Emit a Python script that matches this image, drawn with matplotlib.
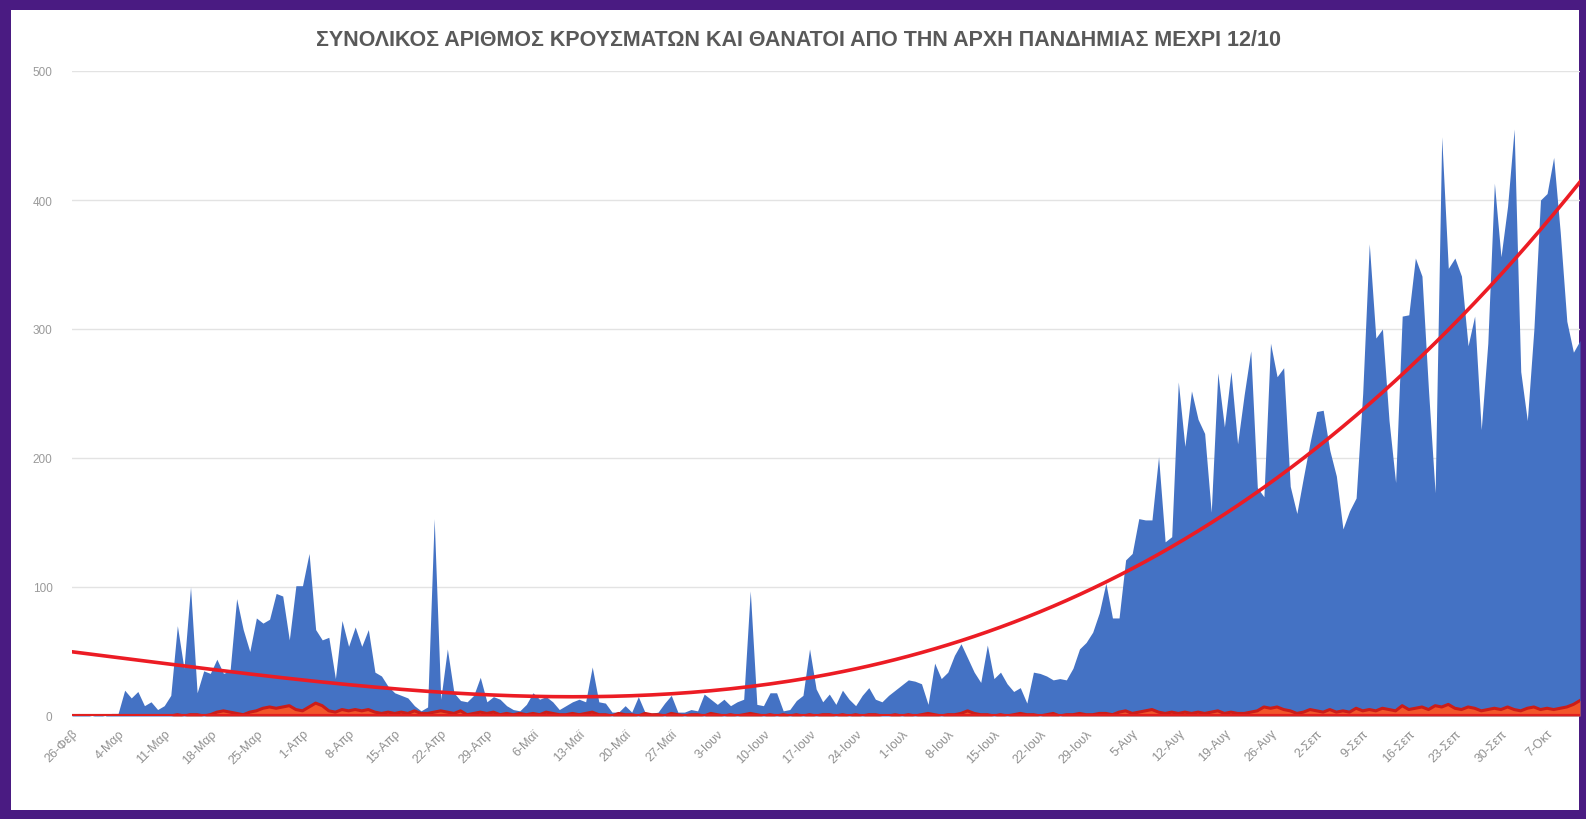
import numpy as np
import matplotlib.pyplot as plt
from matplotlib.patches import Rectangle

plt.rcParams['font.family'] = ['Liberation Sans', 'DejaVu Sans']

# ημερήσια κρούσματα 26/2 - 12/10 (230 ημέρες)
cases = [
    1, 2, 1, 0, 1, 0, 2,
    2, 20, 14, 19, 8, 11, 5,
    8, 16, 70, 37, 100, 18, 35,
    33, 44, 33, 35, 91, 67, 50,
    76, 72, 75, 95, 93, 59, 101,
    101, 126, 67, 59, 61, 29, 74,
    54, 69, 54, 67, 34, 31, 23,
    18, 16, 14, 8, 4, 7, 153,
    13, 52, 18, 12, 11, 16, 30,
    11, 15, 13, 8, 5, 4, 9,
    18, 13, 15, 11, 5, 8, 11,
    13, 11, 38, 11, 10, 3, 3,
    8, 3, 15, 3, 2, 3, 10,
    16, 3, 3, 5, 4, 17, 13,
    9, 13, 8, 11, 13, 97, 9,
    8, 18, 18, 4, 5, 12, 16,
    52, 21, 11, 17, 9, 20, 13,
    8, 16, 22, 13, 11, 16, 20,
    24, 28, 27, 25, 9, 41, 29,
    34, 47, 56, 45, 34, 26, 55,
    29, 34, 25, 19, 22, 10, 34,
    33, 31, 28, 29, 28, 37, 52,
    57, 65, 80, 103, 76, 76, 121,
    126, 153, 152, 152, 201, 135, 139,
    259, 209, 252, 230, 219, 158, 266,
    224, 267, 211, 249, 283, 177, 170,
    289, 263, 270, 178, 157, 185, 212,
    236, 237, 206, 186, 145, 159, 169,
    250, 366, 293, 300, 229, 181, 310,
    311, 355, 341, 252, 173, 449, 347,
    355, 341, 287, 310, 222, 289, 413,
    356, 395, 455, 267, 229, 300, 400,
    405, 433, 375, 306, 282, 291,
]

# ημερήσιοι θάνατοι
deaths = [
    0, 0, 0, 0, 0, 0, 0,
    0, 0, 0, 0, 0, 0, 0,
    0, 0, 1, 0, 1, 1, 0,
    1, 3, 4, 3, 2, 1, 3,
    4, 6, 7, 6, 7, 8, 5,
    4, 7, 10, 8, 4, 3, 5,
    4, 5, 4, 5, 3, 2, 3,
    2, 3, 2, 4, 2, 2, 3,
    4, 3, 2, 4, 1, 2, 3,
    2, 3, 1, 2, 1, 2, 1,
    2, 1, 3, 2, 1, 1, 2,
    1, 2, 3, 1, 1, 0, 2,
    1, 1, 0, 2, 1, 1, 0,
    2, 1, 0, 1, 1, 0, 2,
    1, 0, 1, 0, 1, 2, 1,
    0, 1, 0, 1, 0, 1, 0,
    1, 0, 1, 1, 0, 1, 0,
    1, 0, 1, 1, 0, 0, 1,
    0, 1, 0, 1, 2, 1, 0,
    1, 1, 2, 4, 2, 1, 1,
    0, 1, 0, 1, 2, 1, 1,
    0, 1, 2, 0, 1, 1, 2,
    1, 1, 2, 2, 1, 3, 4,
    2, 3, 4, 5, 3, 2, 3,
    2, 3, 2, 3, 2, 3, 4,
    2, 3, 2, 2, 3, 4, 7,
    6, 7, 5, 4, 2, 3, 5,
    4, 3, 5, 3, 4, 3, 6,
    4, 5, 4, 6, 5, 4, 8,
    5, 6, 7, 5, 8, 7, 9,
    6, 5, 7, 6, 4, 5, 6,
    5, 7, 5, 4, 6, 7, 5,
    6, 5, 6, 7, 9, 12,
]

tick_labels = ['26-Φεβ', '4-Μαρ', '11-Μαρ', '18-Μαρ', '25-Μαρ', '1-Απρ', '8-Απρ',
               '15-Απρ', '22-Απρ', '29-Απρ', '6-Μαϊ', '13-Μαϊ', '20-Μαϊ', '27-Μαϊ',
               '3-Ιουν', '10-Ιουν', '17-Ιουν', '24-Ιουν', '1-Ιουλ', '8-Ιουλ',
               '15-Ιουλ', '22-Ιουλ', '29-Ιουλ', '5-Αυγ', '12-Αυγ', '19-Αυγ',
               '26-Αυγ', '2-Σεπ', '9-Σεπ', '16-Σεπ', '23-Σεπ', '30-Σεπ', '7-Οκτ']

title = 'ΣΥΝΟΛΙΚΟΣ ΑΡΙΘΜΟΣ ΚΡΟΥΣΜΑΤΩΝ ΚΑΙ ΘΑΝΑΤΟΙ ΑΠΟ ΤΗΝ ΑΡΧΗ ΠΑΝΔΗΜΙΑΣ ΜΕΧΡΙ 12/10'

W, H = 1586, 820
fig = plt.figure(figsize=(W / 100, H / 100), dpi=100, facecolor='#4a1b82')
# λευκό πλαίσιο γραφήματος πάνω στο μωβ φόντο
fig.patches.append(Rectangle((11 / W, 9 / H), (1579 - 11) / W, (809 - 9) / H,
                             transform=fig.transFigure, facecolor='white',
                             edgecolor='none', zorder=-10))

ax = fig.add_axes([72 / W, 1 - 717 / H, (1580 - 72) / W, (717 - 72) / H])
ax.set_facecolor('none')
ax.set_zorder(2)

x = np.arange(len(cases))
c = np.array(cases, dtype=float)
d = np.array(deaths, dtype=float)

ax.fill_between(x, c, color='#4472c4', lw=0, zorder=2)
ax.fill_between(x, d, color='#f2562a', lw=0, zorder=3)
ax.plot(x, d, color='#cc1d18', lw=2.2, zorder=4)
ax.plot(x, np.zeros_like(d), color='#e0201f', lw=3, zorder=4)

# πολυωνυμική γραμμή τάσης κρουσμάτων
ax.plot(x, np.polyval(np.polyfit(x, c, 3), x), color='#ec1c24', lw=2.6, zorder=5)

ax.set_xlim(0, len(cases) - 1)
ax.set_ylim(0, 500)
ax.set_yticks([0, 100, 200, 300, 400, 500])
ax.yaxis.grid(True, color='#e3e3e3', lw=1)
ax.set_axisbelow(True)
for s in ax.spines.values():
    s.set_visible(False)

ax.set_xticks(x[::7])
ax.set_xticklabels(tick_labels, rotation=45, ha='right', rotation_mode='anchor')
ax.tick_params(axis='x', length=0, pad=8, labelsize=9, labelcolor='#8f8f8f')
ax.tick_params(axis='y', length=0, pad=14, labelsize=8.5, labelcolor='#9a9a9a')

fig.text(798 / W, 1 - 40 / H, title, ha='center', va='center', fontsize=15.5,
         color='#595959', fontweight='bold')

fig.savefig('out.png', dpi=100, facecolor=fig.get_facecolor())
